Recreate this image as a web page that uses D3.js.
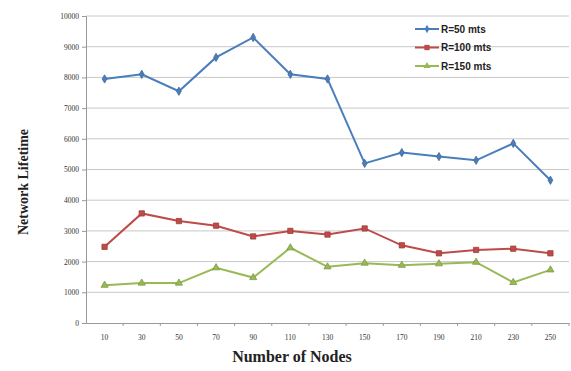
<!DOCTYPE html>
<html>
<head>
<script src="https://d3js.org/d3.v7.min.js"></script>
<style>
  body { margin: 0; padding: 0; background: #fff; }
  .tick text { font-family: "Liberation Serif", "Times New Roman", serif; font-size: 7.5px; fill: #333; }
  .grid line { stroke: #c8c8c8; stroke-width: 1; }
  .title { font-family: "Liberation Serif", "Times New Roman", serif; font-weight: bold; fill: #222; }
  .legend text { font-family: "Liberation Sans", Arial, sans-serif; font-weight: bold; font-size: 10px; fill: #222; }
</style>
</head>
<body>
<script>
// values
var nodes = ["10", "30", "50", "70", "90", "110", "130", "150", "170", "190", "210", "230", "250"];
var r50  = [7950, 8100, 7550, 8650, 9300, 8100, 7950, 5200, 5550, 5420, 5300, 5850, 4650];
var r100 = [2480, 3570, 3320, 3170, 2820, 3000, 2880, 3080, 2530, 2270, 2380, 2420, 2270];
var r150 = [1230, 1300, 1300, 1800, 1480, 2450, 1830, 1950, 1880, 1930, 1980, 1320, 1730];
var yTicks = d3.range(0, 10001, 1000);

var series = [
  {name: "R=50 mts",  values: r50,  color: "#4a7ebb", marker: d3.symbolDiamond, size: 20},
  {name: "R=100 mts", values: r100, color: "#be4b48", marker: d3.symbolSquare, size: 28},
  {name: "R=150 mts", values: r150, color: "#98b954", marker: d3.symbolTriangle, size: 22}
];

var W = 571, H = 371;
var margin = {top: 16, right: 2, bottom: 48, left: 86};
var width = W - margin.left - margin.right,
    height = H - margin.top - margin.bottom;

var svg = d3.select("body").append("svg")
    .attr("width", W).attr("height", H);
var g = svg.append("g")
    .attr("transform", "translate(" + margin.left + "," + margin.top + ")");

var x = d3.scaleBand().domain(nodes).range([0, width]);
var y = d3.scaleLinear().domain([0, 10000]).range([height, 0]);

// gridlines
g.append("g").attr("class", "grid")
  .selectAll("line").data(yTicks.slice(1)).enter().append("line")
    .attr("x1", 0).attr("x2", width)
    .attr("y1", d => y(d)).attr("y2", d => y(d));

var yAxis = g.append("g")
    .call(d3.axisLeft(y).tickValues(yTicks).tickSize(4).tickPadding(3).tickFormat(d3.format("d")));
yAxis.select(".domain").attr("stroke", "#999");
yAxis.selectAll(".tick line").attr("stroke", "#999");

var xAxis = g.append("g")
    .attr("transform", "translate(0," + height + ")")
    .call(d3.axisBottom(x).tickSize(0).tickPadding(12));
xAxis.select(".domain").attr("stroke", "#999");
// small tick marks between categories
xAxis.selectAll(".sep").data(nodes).enter().append("line")
    .attr("x1", d => x(d) + x.bandwidth()).attr("x2", d => x(d) + x.bandwidth())
    .attr("y1", 0).attr("y2", 3).attr("stroke", "#999");

var line = d3.line()
    .x((d, i) => x(nodes[i]) + x.bandwidth() / 2)
    .y(d => y(d));

series.forEach(function(s) {
  g.append("path")
    .datum(s.values)
    .attr("fill", "none")
    .attr("stroke", s.color)
    .attr("stroke-width", 2)
    .attr("d", line);
  g.selectAll(null).data(s.values).enter().append("path")
    .attr("d", d3.symbol().type(s.marker).size(s.size))
    .attr("transform", (d, i) => "translate(" + (x(nodes[i]) + x.bandwidth() / 2) + "," + y(d) + ")")
    .attr("fill", s.color)
    .attr("stroke", d3.color(s.color).darker(0.5))
    .attr("stroke-width", 0.8);
});

// legend
var legend = svg.append("g").attr("class", "legend")
    .attr("transform", "translate(415,29)");
series.forEach(function(s, i) {
  var row = legend.append("g").attr("transform", "translate(0," + i * 18.5 + ")");
  row.append("line").attr("x1", 0).attr("x2", 24).attr("stroke", s.color).attr("stroke-width", 2);
  row.append("path")
    .attr("d", d3.symbol().type(s.marker).size(s.size))
    .attr("transform", "translate(12,0)")
    .attr("fill", s.color);
  row.append("text").attr("x", 26).attr("dy", "0.35em").text(s.name);
});

// axis titles
svg.append("text").attr("class", "title")
    .attr("x", 292).attr("y", 362)
    .attr("text-anchor", "middle")
    .style("font-size", "16px")
    .text("Number of Nodes");
svg.append("text").attr("class", "title")
    .attr("transform", "translate(28,182) rotate(-90)")
    .attr("text-anchor", "middle")
    .style("font-size", "14px")
    .text("Network Lifetime");
</script>
</body>
</html>
